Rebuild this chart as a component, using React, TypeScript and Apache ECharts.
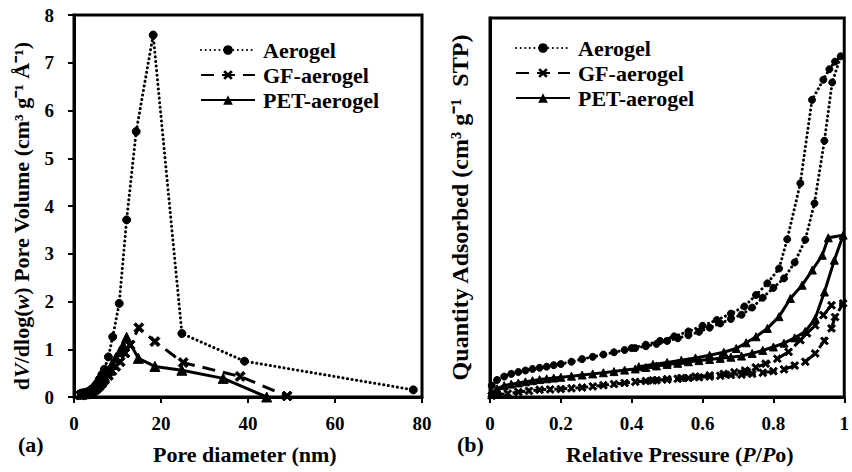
import React, { useEffect, useRef } from "react";
import * as echarts from "echarts";

// ---- (a) Pore size distribution ----
const poreAerogelX = [1.6, 2.2, 2.8, 3.4, 4.0, 4.6, 5.2, 5.8, 6.4, 7.0, 7.9, 8.9, 10.4, 12.1, 14.3, 18.2, 24.8, 39.2, 78.0];
const poreAerogelY = [0.08, 0.09, 0.10, 0.12, 0.16, 0.21, 0.28, 0.37, 0.47, 0.58, 0.84, 1.26, 1.96, 3.71, 5.56, 7.58, 1.33, 0.75, 0.15];
const poreGFX = [1.6, 2.2, 2.8, 3.4, 4.0, 4.6, 5.2, 5.8, 6.4, 7.0, 7.9, 8.7, 9.6, 10.6, 11.7, 12.9, 14.9, 18.6, 25.1, 38.2, 49.0];
const poreGFY = [0.04, 0.05, 0.06, 0.08, 0.11, 0.14, 0.18, 0.23, 0.29, 0.36, 0.45, 0.55, 0.64, 0.74, 0.92, 1.09, 1.45, 1.16, 0.72, 0.43, 0.02];
const porePETX = [1.6, 2.2, 2.8, 3.4, 4.0, 4.6, 5.2, 5.8, 6.4, 7.0, 7.9, 8.7, 9.6, 10.5, 11.3, 12.1, 14.8, 18.6, 24.8, 34.3, 44.3];
const porePETY = [0.06, 0.07, 0.08, 0.10, 0.13, 0.17, 0.22, 0.28, 0.35, 0.43, 0.55, 0.68, 0.82, 0.95, 1.08, 1.25, 0.81, 0.64, 0.56, 0.39, 0.0];

// ---- (b) Isotherms (adsorption then desorption) ----
const isoAerogelAdsX = [0.005, 0.02, 0.04, 0.06, 0.08, 0.10, 0.12, 0.14, 0.16, 0.18, 0.20, 0.23, 0.26, 0.29, 0.32, 0.35, 0.38, 0.41, 0.44, 0.47, 0.50, 0.53, 0.56, 0.59, 0.62, 0.65, 0.68, 0.71, 0.74, 0.77, 0.80, 0.83, 0.86, 0.89, 0.916, 0.944, 0.966, 0.99];
const isoAerogelAdsY = [3.0, 4.5, 5.4, 6.1, 6.6, 7.0, 7.4, 7.7, 8.0, 8.4, 8.7, 9.3, 10.0, 10.6, 11.2, 11.8, 12.4, 12.9, 13.4, 14.0, 14.8, 15.5, 16.3, 17.2, 18.3, 19.4, 20.6, 21.7, 23.6, 26.2, 28.8, 31.3, 35.5, 41.5, 51.1, 67.6, 83.0, 89.9];
const isoAerogelDesX = [0.974, 0.958, 0.941, 0.909, 0.876, 0.839, 0.816, 0.783, 0.751, 0.718, 0.68, 0.64, 0.60, 0.56, 0.52, 0.48, 0.44, 0.40];
const isoAerogelDesY = [88.5, 86.5, 83.7, 78.4, 56.4, 41.6, 33.9, 30.0, 26.9, 23.9, 22.0, 20.3, 18.8, 17.3, 16.0, 14.8, 13.8, 12.9];
const isoGFAdsX = [0.005, 0.02, 0.05, 0.08, 0.11, 0.14, 0.17, 0.20, 0.23, 0.26, 0.29, 0.32, 0.35, 0.38, 0.41, 0.44, 0.47, 0.50, 0.53, 0.56, 0.59, 0.62, 0.65, 0.68, 0.71, 0.74, 0.77, 0.80, 0.83, 0.86, 0.89, 0.918, 0.944, 0.964, 0.974, 0.997];
const isoGFAdsY = [0.3, 0.6, 0.9, 1.3, 1.6, 1.9, 2.0, 2.1, 2.3, 2.5, 2.8, 3.1, 3.4, 3.7, 4.0, 4.2, 4.4, 4.6, 4.8, 5.0, 5.2, 5.4, 5.6, 5.8, 5.9, 6.1, 6.4, 6.8, 7.3, 8.3, 9.3, 11.5, 14.8, 18.1, 21.1, 24.7];
const isoGFDesX = [0.964, 0.941, 0.918, 0.895, 0.876, 0.843, 0.811, 0.778, 0.75, 0.72, 0.69, 0.66, 0.62, 0.58, 0.54, 0.50, 0.46];
const isoGFDesY = [24.2, 21.6, 18.9, 16.8, 15.0, 11.9, 10.1, 8.8, 7.8, 7.0, 6.5, 6.1, 5.7, 5.4, 5.0, 4.7, 4.4];
const isoPETAdsX = [0.005, 0.02, 0.04, 0.06, 0.08, 0.10, 0.12, 0.14, 0.16, 0.18, 0.20, 0.23, 0.26, 0.29, 0.32, 0.35, 0.38, 0.41, 0.44, 0.47, 0.50, 0.53, 0.56, 0.59, 0.62, 0.65, 0.68, 0.71, 0.74, 0.77, 0.80, 0.83, 0.86, 0.89, 0.918, 0.944, 0.972, 0.997];
const isoPETAdsY = [1.0, 2.2, 3.0, 3.4, 3.7, 4.0, 4.3, 4.6, 4.8, 5.0, 5.2, 5.5, 5.8, 6.1, 6.4, 6.7, 7.1, 7.4, 7.8, 8.2, 8.6, 8.9, 9.3, 9.6, 9.9, 10.2, 10.5, 10.8, 11.5, 12.3, 13.2, 14.2, 15.6, 17.3, 20.7, 27.7, 36.1, 42.7];
const isoPETDesX = [0.955, 0.938, 0.910, 0.881, 0.848, 0.816, 0.783, 0.751, 0.723, 0.695, 0.66, 0.62, 0.58, 0.54, 0.50, 0.46, 0.42];
const isoPETDesY = [42.0, 37.4, 33.5, 29.5, 26.0, 21.2, 18.1, 15.9, 14.3, 12.8, 11.8, 11.0, 10.3, 9.7, 9.1, 8.6, 8.0];

const seriesNames = ["Aerogel", "GF-aerogel", "PET-aerogel"];
const poreTicksX = [0, 20, 40, 60, 80];
const pressureTicksX = [0, 0.2, 0.4, 0.6, 0.8, 1];

const zip = (xs: number[], ys: number[]) => xs.map((x, i) => [x, ys[i]]);

const FONT = "'Liberation Serif', 'Times New Roman', serif";
const CROSS = "path://M2,0L5,3L8,0L10,2L7,5L10,8L8,10L5,7L2,10L0,8L3,5L0,2Z";

const baseText = { fontFamily: FONT, fontWeight: "bold" as const, color: "#000" };

export default function App() {
  const ref = useRef<HTMLDivElement>(null);
  useEffect(() => {
    if (!ref.current) return;
    const chart = echarts.init(ref.current, undefined, { renderer: "svg" });

    const dotted = { color: "#000", width: 3, type: [0.1, 4.5] as any, cap: "round" as const };
    const dashed = { color: "#000", width: 3, type: [13, 8] as any };
    const solid = { color: "#000", width: 3, type: "solid" as const };

    const mk = (name: string, idx: number, data: number[][], lineStyle: any, symbol: string, size: number) => ({
      name,
      type: "line",
      xAxisIndex: idx,
      yAxisIndex: idx,
      data,
      symbol,
      symbolSize: size,
      showSymbol: true,
      lineStyle,
      itemStyle: { color: "#000", borderColor: "#000" },
      emphasis: { disabled: true },
      z: 3,
    });

    const axisLine = { show: true, lineStyle: { color: "#000", width: 3 } };
    const axisTick = { show: true, inside: false, length: 6, lineStyle: { color: "#000", width: 2 } };
    const axisLabel = { ...baseText, fontSize: 19 };

    const legendCommon = {
      orient: "vertical" as const,
      data: seriesNames,
      padding: 0,
      itemWidth: 54,
      itemHeight: 12,
      itemGap: 3,
      textStyle: { ...baseText, fontSize: 22, lineHeight: 22, padding: [0, 0, 0, 3] },
      selectedMode: false,
    };

    const titleRich = {
      a: { ...baseText, fontSize: 22 },
      i: { ...baseText, fontSize: 22, fontStyle: "italic" as const },
    };

    chart.setOption({
      animation: false,
      backgroundColor: "#fff",
      grid: [
        { left: 74, top: 15, width: 348, height: 382, show: true, borderColor: "#000", borderWidth: 3 },
        { left: 490, top: 18, width: 359, height: 379, show: true, borderColor: "#000", borderWidth: 3 },
      ],
      legend: [
        { ...legendCommon, left: 200, top: 39 },
        { ...legendCommon, left: 515, top: 37 },
      ],
      xAxis: [
        {
          type: "value", gridIndex: 0, min: poreTicksX[0], max: poreTicksX[poreTicksX.length - 1], interval: 20,
          axisLine, axisTick, splitLine: { show: false },
          axisLabel: { ...axisLabel, margin: 17 },
        },
        {
          type: "value", gridIndex: 1, min: pressureTicksX[0], max: pressureTicksX[pressureTicksX.length - 1], interval: 0.2,
          axisLine, axisTick, splitLine: { show: false },
          axisLabel: { ...axisLabel, margin: 17 },
        },
      ],
      yAxis: [
        {
          type: "value", gridIndex: 0, min: 0, max: 8, interval: 1,
          axisLine, axisTick, splitLine: { show: false },
          axisLabel: { ...axisLabel, margin: 20 },
          name: "{a|d}{i|V}{a|/dlog(}{i|w}{a|) Pore Volume (cm³ g⁻¹ Å⁻¹)}",
          nameLocation: "middle",
          nameGap: 42,
          nameRotate: 90,
          nameTextStyle: { ...baseText, fontSize: 22, rich: titleRich, padding: [0, 20, 0, 0] },
        },
        {
          type: "value", gridIndex: 1, min: 0, max: 100,
          axisLine, axisTick: { show: false }, splitLine: { show: false },
          axisLabel: { show: false },
          name: "Quantity Adsorbed (cm³ g⁻¹  STP)",
          nameLocation: "middle",
          nameGap: 18,
          nameRotate: 90,
          nameTextStyle: { ...baseText, fontSize: 24 },
        },
      ],
      graphic: [
        { type: "text", left: 18, top: 433, style: { text: "(a)", font: `bold 22px ${FONT}`, fill: "#000" } },
        { type: "text", left: 457, top: 433, style: { text: "(b)", font: `bold 22px ${FONT}`, fill: "#000" } },
        { type: "text", left: 153, top: 443, style: { text: "Pore diameter (nm)", font: `bold 22px ${FONT}`, fill: "#000" } },
        {
          type: "text", left: 566, top: 443,
          style: {
            text: "{a|Relative Pressure (}{i|P}{a|/}{i|P}{a|o)}",
            rich: titleRich,
            fill: "#000",
          },
        },
      ],
      series: [
        mk(seriesNames[0], 0, zip(poreAerogelX, poreAerogelY), dotted, "circle", 8),
        mk(seriesNames[1], 0, zip(poreGFX, poreGFY), dashed, CROSS, 10),
        mk(seriesNames[2], 0, zip(porePETX, porePETY), solid, "triangle", 10),
        mk(seriesNames[0], 1, zip(isoAerogelAdsX, isoAerogelAdsY).concat(zip(isoAerogelDesX, isoAerogelDesY)), dotted, "circle", 7),
        mk(seriesNames[1], 1, zip(isoGFAdsX, isoGFAdsY).concat(zip(isoGFDesX, isoGFDesY)), dashed, CROSS, 8),
        mk(seriesNames[2], 1, zip(isoPETAdsX, isoPETAdsY).concat(zip(isoPETDesX, isoPETDesY)), solid, "triangle", 8),
      ],
    });
    return () => chart.dispose();
  }, []);
  return <div ref={ref} style={{ width: 852, height: 472, position: "absolute", left: 0, top: 0 }} />;
}
